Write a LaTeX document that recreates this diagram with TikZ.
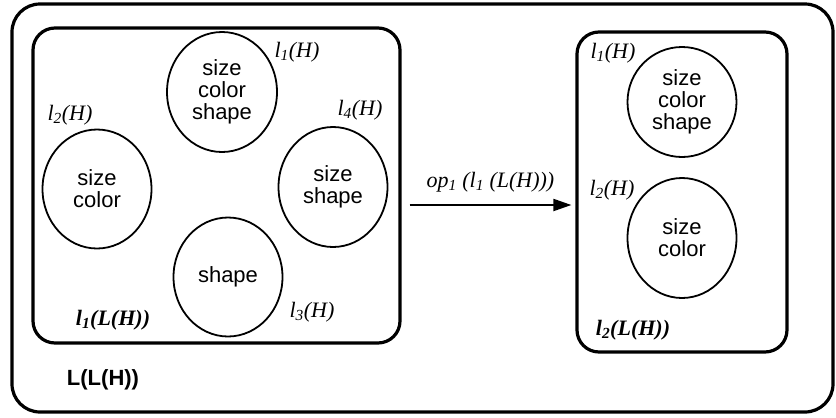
\documentclass[tikz,border=0pt]{standalone}
\usepackage{fontspec}
\setmainfont{Liberation Serif}
\setsansfont{Liberation Sans}
\usetikzlibrary{shapes.geometric,arrows.meta}
\begin{document}
\begin{tikzpicture}[x=1pt,y=-1pt,
  blob/.style={draw,line width=1.8pt,ellipse,inner sep=0pt,minimum width=109pt,minimum height=119pt,align=center,font=\fontsize{22}{22}\selectfont\sffamily},
  panel/.style={draw,line width=3.2pt,rounded corners=22pt,inner sep=0pt},
  lab/.style={inner sep=0pt,font=\fontsize{22}{22}\selectfont\itshape},
  blab/.style={inner sep=0pt,font=\fontsize{22}{22}\selectfont\bfseries\itshape}]
\useasboundingbox (0,0) rectangle (836,418);
\draw[panel,rounded corners=28pt] (12,4) rectangle (833,412);
\node[panel,minimum width=367pt,minimum height=315pt] (left) at (216.5,185.5) {};
\node[panel,minimum width=210pt,minimum height=320pt] (right) at (682,192) {};
% lattice l1(L(H))
\node[blob,minimum width=110pt,minimum height=120pt] (c1) at (222,92) {size\\color\\shape};
\node[blob] (c2) at (97,189) {size\\color};
\node[blob,minimum height=120pt] (c4) at (333,187) {size\\shape};
\node[blob] (c3) at (228,277) {shape};
\node[lab] (t1) at (297,52) {l\textsubscript{1}(H)};
\node[lab] (t2) at (70,115) {l\textsubscript{2}(H)};
\node[lab] (t4) at (360,110) {l\textsubscript{4}(H)};
\node[lab] (t3) at (312,312) {l\textsubscript{3}(H)};
\node[blab] (tl1) at (113,320) {l\textsubscript{1}(L(H))};
\node[inner sep=0pt,font=\fontsize{22}{22}\selectfont\sffamily\bfseries] (tll) at (103,380) {L(L(H))};
% lattice l2(L(H))
\node[blob,minimum height=110pt] (d1) at (682,102) {size\\color\\shape};
\node[blob,minimum height=120pt] (d2) at (682,238) {size\\color};
\node[lab] (s1) at (613,53) {l\textsubscript{1}(H)};
\node[lab] (s2) at (612,190) {l\textsubscript{2}(H)};
\node[blab] (tl2) at (633,330) {l\textsubscript{2}(L(H))};
\draw[line width=2pt,-{Triangle[length=18pt,width=12pt]}] ([xshift=8pt,yshift=-19.5pt]left.east) -- node[lab,above=12pt] (op) {op\textsubscript{1} (l\textsubscript{1} (L(H)))} ([xshift=-4pt,yshift=-13pt]right.west);
\end{tikzpicture}
\end{document}
